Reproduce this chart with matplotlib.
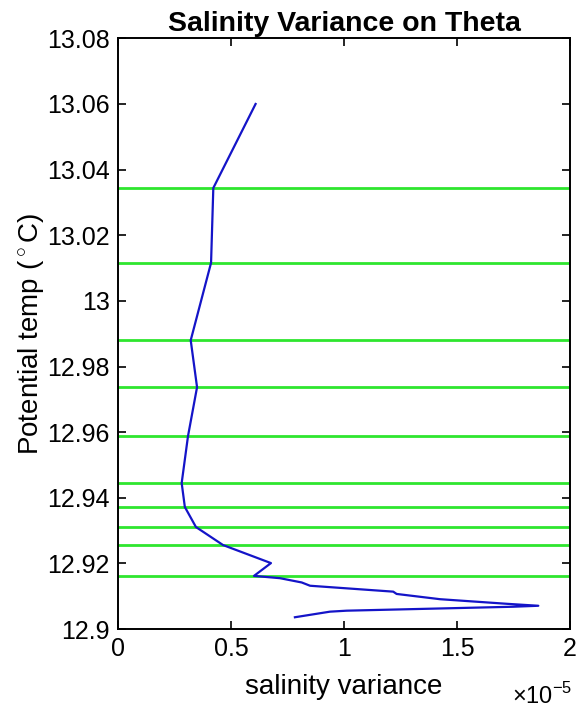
import numpy as np
import matplotlib
matplotlib.use('Agg')
import matplotlib.pyplot as plt
from matplotlib.ticker import FuncFormatter

plt.rcParams['font.family'] = ['Liberation Sans', 'DejaVu Sans']
plt.rcParams['mathtext.fontset'] = 'custom'
plt.rcParams['mathtext.rm'] = 'Liberation Sans'

# salinity variance (units of 1e-5) vs potential temperature
sal_var = [0.609, 0.422, 0.412, 0.322, 0.35, 0.31, 0.282, 0.296, 0.345, 0.465,
           0.677, 0.602, 0.717, 0.813, 0.85, 1.218, 1.233, 1.425, 1.72, 1.86,
           1.748, 1.012, 0.938, 0.783]
theta = [13.06, 13.0344, 13.0116, 12.988, 12.9737, 12.9588, 12.9445, 12.9372, 12.9311, 12.9256,
         12.9201, 12.9162, 12.9155, 12.9142, 12.9132, 12.9114, 12.9107, 12.9091, 12.9077, 12.9071,
         12.9068, 12.9056, 12.9053, 12.9036]

# theta levels marked in green
levels = [13.0344, 13.0116, 12.988, 12.9737, 12.9588, 12.9445, 12.9372, 12.9311, 12.9255, 12.9162]

fig = plt.figure(figsize=(5.81, 7.10), dpi=100)
ax = fig.add_axes([0.203, 0.114, 0.778, 0.832])

for lv in levels:
	ax.plot([0, 2], [lv, lv], color='#2ee62e', lw=2)
ax.plot(sal_var, theta, color='#1414c8', lw=1.6)

ax.set_xlim(0, 2)
ax.set_ylim(12.9, 13.08)
ax.set_xticks([0, 0.5, 1, 1.5, 2])
ax.set_yticks(np.round(np.arange(12.9, 13.081, 0.02), 2))
fmt = FuncFormatter(lambda v, p: '{:g}'.format(round(v, 4)))
ax.xaxis.set_major_formatter(fmt)
ax.yaxis.set_major_formatter(fmt)
ax.tick_params(direction='in', length=6, width=1.2, labelsize=18, top=True, right=True, pad=6)
for s in ax.spines.values():
	s.set_linewidth(1.4)

ax.set_title('Salinity Variance on Theta', fontsize=20.5, fontweight='bold', pad=5)
ax.set_xlabel('salinity variance', fontsize=20, labelpad=9)
ax.set_ylabel(r'Potential temp ($^\circ$C)', fontsize=20, labelpad=0)
ax.text(1.005, -0.126, '×10$^{-5}$', transform=ax.transAxes, ha='right', va='baseline', fontsize=17)

fig.savefig('out.png', dpi=100)
